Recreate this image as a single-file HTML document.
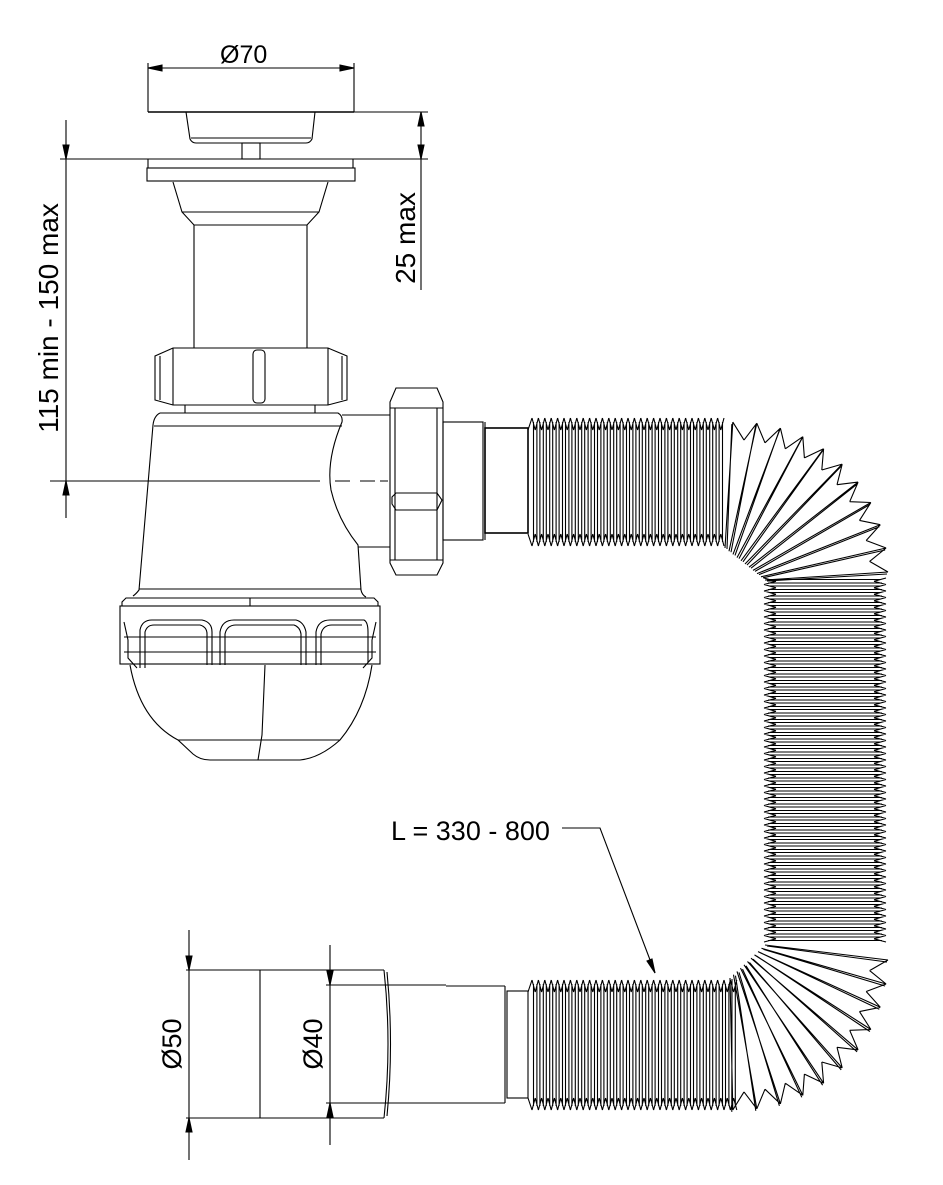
<!DOCTYPE html>
<html><head><meta charset="utf-8"><style>
html,body{margin:0;padding:0;background:#fff;width:943px;height:1185px;overflow:hidden}
svg{display:block}
text{font-family:"Liberation Sans",sans-serif;fill:#000}
</style></head><body>
<svg id="s" width="943" height="1185" viewBox="0 0 943 1185" xmlns="http://www.w3.org/2000/svg" fill="none" stroke="#000" stroke-width="1.1">
<!-- dimension Ø70 -->
<line x1="148" y1="63" x2="148" y2="112"/><line x1="354" y1="63" x2="354" y2="112"/>
<line x1="148" y1="68" x2="354" y2="68"/>
<path d="M148 68 l14 -3 v6z M354 68 l-14 -3 v6z" fill="#000"/>
<text x="220" y="63" font-size="25" stroke="none">Ø70</text>
<!-- cap -->
<line x1="148" y1="112" x2="354" y2="112" stroke-width="1.6"/>
<path d="M186 112 L190 139 Q192 143 196 143 L306 143 Q310 143 312 139 L315 112"/>
<line x1="191" y1="138" x2="311" y2="138"/>
<rect x="242" y="143" width="18" height="16"/>
<line x1="60" y1="159" x2="428" y2="159"/>
<line x1="354" y1="112" x2="428" y2="112"/>
<!-- flange -->
<line x1="148" y1="159" x2="148" y2="168"/><line x1="353" y1="159" x2="353" y2="168"/>
<rect x="147" y="168" width="208" height="13"/>
<path d="M173 182 L182 212 L194 225 L307 225 L319 212 L328 182"/>
<line x1="182" y1="212" x2="319" y2="212"/>
<line x1="194" y1="225" x2="194" y2="348"/><line x1="307" y1="225" x2="307" y2="348"/>
<!-- nut -->
<path d="M173 348 L328 348 L347 356 L347 400 L328 405 L173 405 L155 400 L155 356 Z"/>
<line x1="173" y1="348" x2="173" y2="405"/><line x1="328" y1="348" x2="328" y2="405"/>
<line x1="160" y1="356" x2="160" y2="400"/><line x1="342" y1="356" x2="342" y2="400"/>
<rect x="253" y="350" width="12" height="53" rx="4"/>
<line x1="185" y1="405" x2="185" y2="413"/><line x1="315" y1="405" x2="315" y2="413"/>
<!-- body -->
<path d="M160 413 L338 413 Q343 416 342 422 Q326 460 331 490 Q338 520 358 545 L361 590 Q362 595 366 597"/>
<path d="M160 413 Q154 416 153 425 L139 590 Q136 594 133 596"/>
<line x1="154" y1="426" x2="342" y2="426"/>
<line x1="342" y1="415" x2="390" y2="415"/><line x1="358" y1="547" x2="390" y2="547"/>
<line x1="139" y1="589" x2="361" y2="589"/>
<!-- union nut -->
<path d="M396 388 L437 388 L443 402 L443 563 L437 575 L396 575 L390 563 L390 402 Z"/>
<line x1="390" y1="408" x2="443" y2="408"/><line x1="390" y1="560" x2="443" y2="560"/>
<line x1="395" y1="408" x2="395" y2="560"/><line x1="437" y1="408" x2="437" y2="560"/>
<path d="M392 497 L396 493 L437 493 L442 500 L437 510 L396 510 L392 504 Z"/>
<!-- right pipe -->
<rect x="443" y="422" width="40" height="118"/>
<line x1="485" y1="422" x2="485" y2="540"/>
<rect x="485" y="428" width="43" height="105" stroke-width="1.6"/>
<!-- ring & bowl -->
<path d="M126 598 L374 598 L378 602 L378 606 L122 606 L122 602 Z"/>
<rect x="120" y="606" width="260" height="58"/>
<line x1="250" y1="598" x2="250" y2="606"/>
<line x1="124" y1="637" x2="376" y2="637"/><line x1="124" y1="652" x2="376" y2="652"/>
<path d="M140 668 L140 630 Q142 620 152 620 L202 620 Q212 622 212 632 L212 665"/>
<path d="M145 668 L145 632 Q147 625 154 625 L200 625 Q207 627 207 634 L207 665"/>
<path d="M220 665 L220 632 Q222 620 234 620 L296 620 Q304 622 306 632 L306 665"/>
<path d="M225 665 L225 634 Q227 625 236 625 L294 625 Q300 627 301 634 L301 665"/>
<path d="M316 665 L316 632 Q318 620 330 620 L364 620 Q368 622 368 632 L368 662"/>
<path d="M321 665 L321 634 Q323 625 332 625 L362 625"/>
<path d="M124 622 L128 640 L128 658 L137 668"/>
<path d="M376 622 L372 640 L372 658 L363 668"/>
<path d="M130 665 Q140 720 178 740 L193 754 Q200 760 210 760 L300 760 Q320 758 340 740 Q365 710 372 665"/>
<line x1="178" y1="740" x2="340" y2="740"/>
<path d="M265 665 L262 735 L258 760"/>
<!-- 115-150 dimension -->
<line x1="66" y1="120" x2="66" y2="518"/>
<path d="M66 159 l-3 -14 h6z M66 481 l-3 14 h6z" fill="#000"/>
<line x1="50" y1="481" x2="320" y2="481"/>
<path d="M335 481 h15 M360 481 h15 M380 481 h8" />
<text transform="translate(58,318) rotate(-90)" font-size="28" text-anchor="middle" stroke="none">115 min - 150 max</text>
<!-- 25 max -->
<line x1="421" y1="112" x2="421" y2="290"/>
<path d="M421 112 l-3 14 h6z M421 159 l-3 -14 h6z" fill="#000"/>
<text transform="translate(415,238) rotate(-90)" font-size="28" text-anchor="middle" stroke="none">25 max</text>
<!-- bottom pipe -->
<line x1="186" y1="970" x2="384" y2="970"/><line x1="186" y1="1118" x2="384" y2="1118"/>
<line x1="260" y1="970" x2="260" y2="1118"/>
<path d="M384 970 Q392 1044 384 1118"/><path d="M387 972 Q394 1044 387 1116"/>
<line x1="326" y1="985" x2="446" y2="985"/><line x1="446" y1="986" x2="505" y2="986"/>
<line x1="326" y1="1103" x2="446" y2="1103"/><line x1="446" y1="1103" x2="505" y2="1103"/>
<line x1="505" y1="986" x2="505" y2="1103"/>
<rect x="507" y="991" width="21" height="107"/>
<line x1="189" y1="930" x2="189" y2="1160"/>
<path d="M189 970 l-3 -14 h6z M189 1118 l-3 14 h6z" fill="#000"/>
<line x1="330" y1="945" x2="330" y2="1145"/>
<path d="M330 985 l-3 -14 h6z M330 1103 l-3 14 h6z" fill="#000"/>
<text transform="translate(181,1044) rotate(-90)" font-size="27" text-anchor="middle" stroke="none">Ø50</text>
<text transform="translate(322,1044) rotate(-90)" font-size="27" text-anchor="middle" stroke="none">Ø40</text>
<!-- L label -->
<text x="391" y="840" font-size="27" stroke="none">L = 330 - 800</text>
<path d="M562 828 L600 828 L655 973"/>
<path d="M655 973 l-8 -12 l5 -2z" fill="#000"/>
<g id="hose"></g>
</svg>
<script>
var g=document.getElementById('hose'),d='';
function L(a,b,c,e){d+='M'+a.toFixed(1)+' '+b.toFixed(1)+'L'+c.toFixed(1)+' '+e.toFixed(1);}
function hh(y0,y1,x0,x1){var p=6.4,n=Math.floor((x1-x0)/p);
 L(x0,y0+14,x0+4,y0+2);L(x0,y1-14,x0+4,y1-2);
 for(var i=0;i<n;i++){var x=x0+4+i*p;
  L(x,y0+2,x+p/2,y0+14);L(x+p/2,y0+14,x+p,y0+2);
  L(x,y1-2,x+p/2,y1-14);L(x+p/2,y1-14,x+p,y1-2);
  L(x+1.5,y0+6,x+1.5,y1-6);L(x+p-1.5,y0+6,x+p-1.5,y1-6);}
}
hh(416,548,528,720);hh(978,1112,528,735);
(function(){var p=6.5,x0=762,x1=888,y=578;
 while(y<940){L(x0+2,y,x0+14,y+p/2);L(x0+14,y+p/2,x0+2,y+p);
  L(x1-2,y,x1-14,y+p/2);L(x1-14,y+p/2,x1-2,y+p);
  L(x0+6,y+1.5,x1-6,y+1.5);L(x0+6,y+p-1.5,x1-6,y+p-1.5);y+=p;}
})();
function bend(cx,cy,a0,a1,n,r,ix,iy){
 for(var i=0;i<=n;i++){var a=(a0+(a1-a0)*i/n)*Math.PI/180;
  var ox=cx+r*Math.cos(a),oy=cy+r*Math.sin(a);
  var am=(a0+(a1-a0)*(i+0.5)/n)*Math.PI/180;
  var qx=cx+(r-18)*Math.cos(am),qy=cy+(r-18)*Math.sin(am);
  var jx=ix(i/n),jy=iy(i/n);
  L(jx,jy,ox,oy);L(jx+2,jy+1,ox-1,oy+2);
  if(i<n){var a2=(a0+(a1-a0)*(i+1)/n)*Math.PI/180;
   L(ox,oy,qx,qy);L(qx,qy,cx+r*Math.cos(a2),cy+r*Math.sin(a2));}
 }}
bend(738,572,-92,0,10,150,function(t){return 725+t*40},function(t){return 548+t*32});
bend(738,960,0,92,10,150,function(t){return 765-t*35},function(t){return 945+t*33});
g.innerHTML='<path d="'+d+'"/>';
</script>
</body></html>
